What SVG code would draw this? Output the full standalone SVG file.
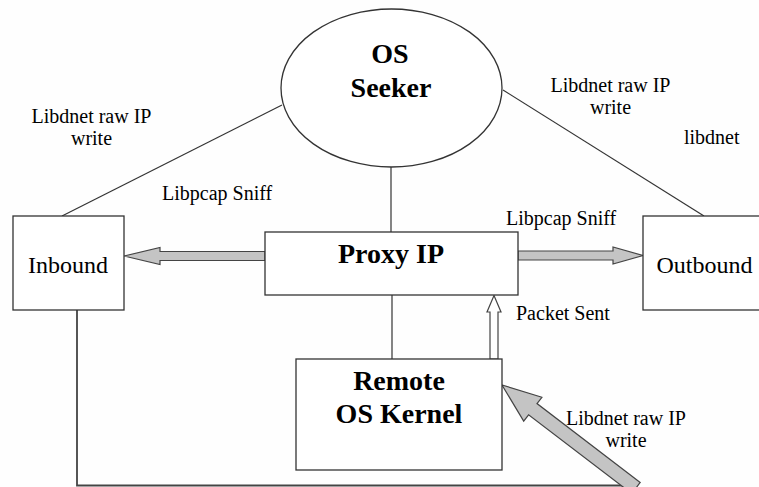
<svg xmlns="http://www.w3.org/2000/svg" width="759" height="487" viewBox="0 0 759 487">
  <style>
    text { font-family: "Liberation Serif", "Times New Roman", serif; fill: #000000; }
    .box { fill: #ffffff; stroke: #333333; stroke-width: 1.3; }
    .link { fill: none; stroke: #333333; stroke-width: 1.2; }
    .bus { fill: none; stroke: #444444; stroke-width: 1.8; }
    .fat { fill: #c4c4c4; stroke: #444444; stroke-width: 1.2; stroke-linejoin: miter; }
    .hollow { fill: #ffffff; stroke: #444444; stroke-width: 1.2; }
    .lbl { font-size: 20px; }
    .node { font-size: 24px; text-anchor: middle; }
    .title { font-size: 28px; font-weight: bold; text-anchor: middle; }
  </style>
  <rect width="759" height="487" fill="#fefefe"/>

  <g id="connectors">
    <line class="link" x1="282" y1="105" x2="62" y2="216"/>
    <line class="link" x1="503" y1="90" x2="704" y2="216"/>
    <line class="link" x1="391" y1="167" x2="391" y2="232"/>
    <line class="link" x1="392" y1="295" x2="392" y2="359"/>
    <polyline class="bus" points="77,310 77,485.5 636,485.5"/>
    <!-- Proxy IP to Inbound -->
    <polygon class="fat" points="265,251.5 160,251.5 160,247.5 124,256 160,264.5 160,260.5 265,260.5"/>
    <!-- Proxy IP to Outbound -->
    <polygon class="fat" points="518,251 613,251 613,247 643,255.5 613,264 613,260 518,260"/>
    <!-- Remote OS Kernel to Proxy IP -->
    <polygon class="hollow" points="490,359 490,312 487,312 494,295.5 501,312 498,312 498,359"/>
    <!-- raw IP write into Remote OS Kernel -->
    <polygon class="fat" points="640.2,482.4 537,403.6 541.9,397.3 502,385 523.7,421.1 528.6,414.8 631.8,493.6"/>
  </g>

  <g id="os-seeker">
    <ellipse class="box" cx="391.5" cy="88" rx="110.5" ry="79"/>
    <text class="title" x="390" y="63">OS</text>
    <text class="title" x="391" y="97">Seeker</text>
  </g>

  <g id="proxy-ip">
    <rect class="box" x="265" y="232" width="253" height="63"/>
    <text class="title" x="391" y="263">Proxy IP</text>
  </g>

  <g id="inbound">
    <rect class="box" x="13" y="216" width="111" height="94"/>
    <text class="node" x="68" y="273">Inbound</text>
  </g>

  <g id="outbound">
    <rect class="box" x="643" y="216" width="130" height="94"/>
    <text class="node" x="704.5" y="273">Outbound</text>
  </g>

  <g id="remote-os-kernel">
    <rect class="box" x="296" y="359" width="206" height="111"/>
    <text class="title" x="399" y="390">Remote</text>
    <text class="title" x="399" y="423">OS Kernel</text>
  </g>

  <g id="labels">
    <text class="lbl" x="91.5" y="123" text-anchor="middle">Libdnet raw IP</text>
    <text class="lbl" x="91.5" y="145" text-anchor="middle">write</text>
    <text class="lbl" x="610.5" y="92" text-anchor="middle">Libdnet raw IP</text>
    <text class="lbl" x="610.5" y="114" text-anchor="middle">write</text>
    <text class="lbl" x="684" y="144">libdnet</text>
    <text class="lbl" x="162" y="200">Libpcap Sniff</text>
    <text class="lbl" x="506" y="225">Libpcap Sniff</text>
    <text class="lbl" x="516" y="320">Packet Sent</text>
    <text class="lbl" x="626" y="425" text-anchor="middle">Libdnet raw IP</text>
    <text class="lbl" x="626" y="447" text-anchor="middle">write</text>
  </g>
</svg>
